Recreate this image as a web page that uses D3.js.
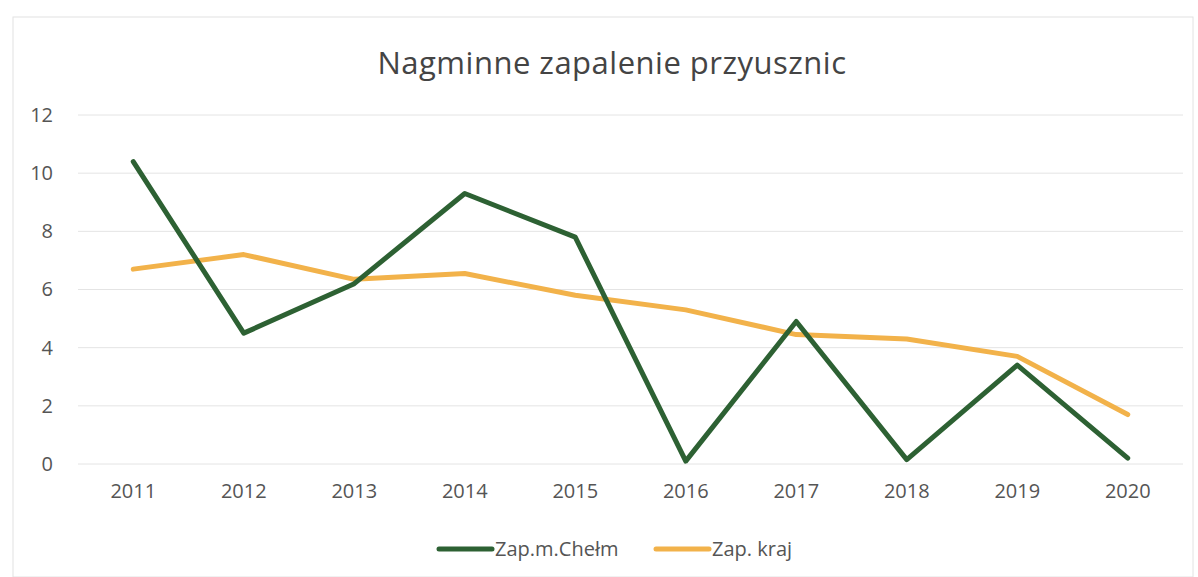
<!DOCTYPE html>
<html><head><meta charset="utf-8">
<script src="https://cdn.jsdelivr.net/npm/d3@7"></script>
<style>
html,body{margin:0;padding:0;background:#fff;}
text{font-family:"Open Sans","Noto Sans",sans-serif;}
</style></head>
<body><svg id="c" width="1198" height="577"></svg>
<script>
const years = ["2011","2012","2013","2014","2015","2016","2017","2018","2019","2020"];
const chelm = [10.4, 4.5, 6.2, 9.3, 7.8, 0.1, 4.9, 0.15, 3.4, 0.2];
const kraj  = [6.7, 7.2, 6.35, 6.55, 5.8, 5.3, 4.45, 4.3, 3.7, 1.7];
const yTicks = [0,2,4,6,8,10,12];
const seriesNames = ["Zap.m.Chełm","Zap. kraj"];
const colors = ["#2d6133","#f2b24a"];

const svg = d3.select("#c");
// outer frame
svg.append("rect").attr("x",13).attr("y",17).attr("width",1180).attr("height",560)
  .attr("fill","none").attr("stroke","#e2e2e2").attr("stroke-width",1);

const L=78,R=1183,T=115,B=464;
const x = d3.scaleBand().domain(years).range([L,R]);
const y = d3.scaleLinear().domain([0,12]).range([B,T]);

// gridlines
svg.append("g").selectAll("line").data(yTicks).join("line")
  .attr("x1",L).attr("x2",R).attr("y1",d=>y(d)).attr("y2",d=>y(d))
  .attr("stroke","#e4e4e4").attr("stroke-width",1);

// y axis labels
const ya = svg.append("g").attr("transform",`translate(${L},0)`)
  .call(d3.axisLeft(y).tickValues(yTicks).tickSize(0).tickPadding(25));
ya.select(".domain").remove();
ya.selectAll("text").attr("font-size",20).attr("fill","#555").style("font-family",'"Open Sans",sans-serif');

// x axis labels
const xa = svg.append("g").attr("transform",`translate(0,${B})`)
  .call(d3.axisBottom(x).tickSize(0).tickPadding(20));
xa.select(".domain").remove();
xa.selectAll("text").attr("font-size",20).attr("fill","#555").style("font-family",'"Open Sans",sans-serif');

const line = d3.line().x((d,i)=>x(years[i])+x.bandwidth()/2).y(d=>y(d));
[kraj, chelm].forEach((s,k)=>{
  const c = k===0?colors[1]:colors[0];
  svg.append("path").datum(s).attr("d",line).attr("fill","none")
    .attr("stroke",c).attr("stroke-width",5).attr("stroke-linejoin","round").attr("stroke-linecap","round");
});

// title
svg.append("text").attr("x",612).attr("y",74).attr("text-anchor","middle")
  .attr("font-size",31).attr("letter-spacing",0.5).attr("fill","#444").text("Nagminne zapalenie przyusznic");

// legend
const lg = svg.append("g");
const items = [{n:seriesNames[0],c:colors[0],x:439},{n:seriesNames[1],c:colors[1],x:656}];
items.forEach(it=>{
  lg.append("line").attr("x1",it.x).attr("x2",it.x+53).attr("y1",549).attr("y2",549)
    .attr("stroke",it.c).attr("stroke-width",5).attr("stroke-linecap","round");
  lg.append("text").attr("x",it.x+56).attr("y",556).attr("font-size",20).attr("fill","#555").text(it.n);
});
</script></body></html>
